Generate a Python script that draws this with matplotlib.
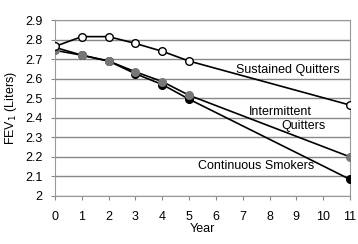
import matplotlib.pyplot as plt

plt.rcParams['font.family'] = ['Liberation Sans', 'DejaVu Sans']

years = [0, 1, 2, 3, 4, 5, 11]
sustained = [2.765, 2.815, 2.815, 2.78, 2.74, 2.69, 2.465]
intermittent = [2.745, 2.72, 2.69, 2.635, 2.585, 2.515, 2.20]
continuous = [2.76, 2.72, 2.69, 2.625, 2.57, 2.495, 2.085]

fig = plt.figure(figsize=(3.58, 2.44), dpi=100)
ax = fig.add_axes([55/358, 1 - 196/244, 295/358, 176/244])

ax.plot(years, continuous, '-o', color='black', lw=1.2, ms=5.5,
        mfc='black', mec='black', zorder=3)
ax.plot(years, intermittent, '-o', color='black', lw=1.2, ms=5.5,
        mfc='#777777', mec='#777777', zorder=4)
ax.plot(years, sustained, '-o', color='black', lw=1.2, ms=5.5,
        mfc='white', mec='black', mew=1.0, zorder=5)

ax.text(8.7, 2.645, 'Sustained Quitters', fontsize=9, ha='center', va='center')
ax.text(8.4, 2.43, 'Intermittent', fontsize=9, ha='center', va='center')
ax.text(9.25, 2.358, 'Quitters', fontsize=9, ha='center', va='center')
ax.text(7.5, 2.153, 'Continuous Smokers', fontsize=9, ha='center', va='center')

ax.set_xlim(0, 11)
ax.set_ylim(2, 2.9)
ax.set_xticks(range(12))
ax.set_yticks([2, 2.1, 2.2, 2.3, 2.4, 2.5, 2.6, 2.7, 2.8, 2.9])
ax.set_yticklabels(['2', '2.1', '2.2', '2.3', '2.4', '2.5', '2.6', '2.7', '2.8', '2.9'])
ax.yaxis.grid(True, color='#888888', lw=1.0)
ax.set_axisbelow(True)
ax.tick_params(labelsize=9, length=3, color='#888888')
ax.tick_params(axis='x', pad=8)
ax.tick_params(axis='y', pad=6)
for s in ax.spines.values():
    s.set_color('#999999')
    s.set_linewidth(0.8)

ax.set_xlabel('Year', fontsize=9, va='center')
ax.set_ylabel('FEV$_1$ (Liters)', fontsize=9, va='center')
ax.xaxis.set_label_coords(0.498, -0.19)
ax.yaxis.set_label_coords(-0.15, 0.5)

fig.savefig('out.png', dpi=100)
